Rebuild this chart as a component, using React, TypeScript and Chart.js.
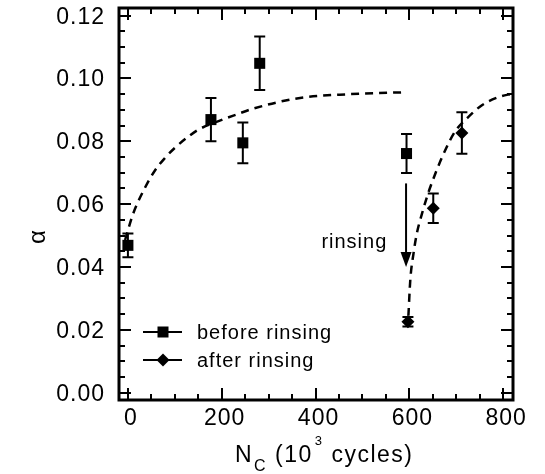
import React, { useEffect, useRef } from 'react';
import { Chart, registerables } from 'chart.js';

Chart.register(...registerables);

// ---- data ----
const beforeN = [0, 177, 245, 281, 594];
const beforeAlpha = [0.0469, 0.0869, 0.0795, 0.1048, 0.0761];
const beforeErr = [0.0038, 0.0069, 0.0065, 0.0085, 0.0062];

const afterN = [597, 651, 712];
const afterAlpha = [0.0226, 0.0587, 0.0826];
const afterErr = [0.0015, 0.0047, 0.0066];

// dashed guide curves
const fit1N = [-6, 11, 36, 58, 79, 100, 128, 149, 200, 235, 265, 367, 474, 591];
const fit1Alpha = [0.0486, 0.0569, 0.0651, 0.0708, 0.0747, 0.0779, 0.0814, 0.0836, 0.0868, 0.0887, 0.0903, 0.0938, 0.095, 0.0956];

const fit2N = [598, 602, 609, 616, 627, 640, 658, 676, 697, 725, 754, 789, 821];
const fit2Alpha = [0.0245, 0.0358, 0.0444, 0.0507, 0.057, 0.0634, 0.0707, 0.077, 0.083, 0.0876, 0.0914, 0.094, 0.0952];

// axes
const xTickValues = [0, 200, 400, 600, 800];
const xTickLabels = ['0', '200', '400', '600', '800'];
const yTickValues = [0, 0.02, 0.04, 0.06, 0.08, 0.1, 0.12];
const yTickLabels = ['0.00', '0.02', '0.04', '0.06', '0.08', '0.10', '0.12'];
const X_MIN = -19;
const X_MAX = 821;
const Y_MIN = -0.0023;
const Y_MAX = 0.1224;

// annotation
const legendLabels = ['before rinsing', 'after rinsing'];
const arrowN = 593;
const arrowFrom = 0.0666;
const arrowTo = 0.04;
const arrowText = 'rinsing';
const arrowTextN = 553;
const arrowTextAlpha = 0.0478;

const FONT = "'Liberation Sans', Arial, Helvetica, sans-serif";

const toXY = (xs: number[], ys: number[]) => xs.map((v, i) => ({ x: v, y: ys[i] }));

function drawDiamond(ctx: CanvasRenderingContext2D, x: number, y: number, r: number) {
  ctx.beginPath();
  ctx.moveTo(x, y - r);
  ctx.lineTo(x + r, y);
  ctx.lineTo(x, y + r);
  ctx.lineTo(x - r, y);
  ctx.closePath();
  ctx.fill();
}

const customPlugin = {
  id: 'custom',
  beforeDatasetDraw(chart: any, args: any) {
    if (args.index !== 1) return;
    const { ctx, scales } = chart;
    const x = scales.x;
    const y = scales.y;
    ctx.save();
    ctx.strokeStyle = '#000';
    ctx.lineWidth = 2;
    const cap = 5.5;
    const drawSet = (ns: number[], as: number[], es: number[]) => {
      ns.forEach((n, i) => {
        const px = x.getPixelForValue(n);
        const top = y.getPixelForValue(as[i] + es[i]);
        const bot = y.getPixelForValue(as[i] - es[i]);
        ctx.beginPath();
        ctx.moveTo(px, top);
        ctx.lineTo(px, bot);
        ctx.moveTo(px - cap, top);
        ctx.lineTo(px + cap, top);
        ctx.moveTo(px - cap, bot);
        ctx.lineTo(px + cap, bot);
        ctx.stroke();
      });
    };
    drawSet(beforeN, beforeAlpha, beforeErr);
    drawSet(afterN, afterAlpha, afterErr);
    ctx.restore();
  },
  afterDraw(chart: any) {
    const { ctx, chartArea: a, scales } = chart;
    const x = scales.x;
    const y = scales.y;
    ctx.save();
    ctx.strokeStyle = '#000';
    ctx.fillStyle = '#000';

    // ticks (inside, all four sides)
    ctx.lineWidth = 2;
    ctx.beginPath();
    for (let v = 0; v <= 800; v += 50) {
      const px = Math.round(x.getPixelForValue(v));
      const len = v % 200 === 0 ? 12 : 6;
      ctx.moveTo(px, a.bottom);
      ctx.lineTo(px, a.bottom - len);
      ctx.moveTo(px, a.top);
      ctx.lineTo(px, a.top + len);
    }
    for (let k = 0; k <= 24; k++) {
      const v = k * 0.005;
      const py = Math.round(y.getPixelForValue(v));
      const len = k % 4 === 0 ? 12 : 6;
      ctx.moveTo(a.left, py);
      ctx.lineTo(a.left + len, py);
      ctx.moveTo(a.right, py);
      ctx.lineTo(a.right - len, py);
    }
    ctx.stroke();

    // frame
    ctx.lineWidth = 3;
    ctx.strokeRect(a.left, a.top, a.right - a.left, a.bottom - a.top);

    // tick labels
    (ctx as any).letterSpacing = '1px';
    ctx.font = `23px ${FONT}`;
    ctx.textBaseline = 'alphabetic';
    ctx.textAlign = 'right';
    yTickValues.forEach((v, i) => {
      ctx.fillText(yTickLabels[i], 105, y.getPixelForValue(v) + 8);
    });
    ctx.textAlign = 'center';
    xTickValues.forEach((v, i) => {
      ctx.fillText(xTickLabels[i], x.getPixelForValue(v) + 3, 425);
    });

    // x title: N_C (10^3 cycles)
    (ctx as any).letterSpacing = '1.5px';
    ctx.textAlign = 'left';
    let cx = 235;
    ctx.font = `23px ${FONT}`;
    ctx.fillText('N', cx, 462);
    cx += ctx.measureText('N').width;
    ctx.font = `16px ${FONT}`;
    ctx.fillText('C', cx + 1, 471);
    cx += ctx.measureText('C').width + 1;
    ctx.font = `23px ${FONT}`;
    ctx.fillText(' (10', cx, 462);
    cx += ctx.measureText(' (10').width;
    ctx.font = `13px ${FONT}`;
    ctx.fillText('3', cx + 2, 445);
    cx += ctx.measureText('3').width + 2;
    ctx.font = `23px ${FONT}`;
    ctx.fillText(' cycles)', cx, 462);
    (ctx as any).letterSpacing = '1px';

    // y title
    ctx.save();
    ctx.translate(38, 237);
    ctx.rotate(-Math.PI / 2);
    ctx.font = `24px ${FONT}`;
    ctx.textAlign = 'center';
    ctx.textBaseline = 'middle';
    (ctx as any).letterSpacing = '0px';
    ctx.fillText('\u03b1', 0, 0);
    ctx.restore();

    // legend
    ctx.font = `20px ${FONT}`;
    ctx.textAlign = 'left';
    ctx.textBaseline = 'middle';
    const rows = [332, 360];
    rows.forEach((ry, i) => {
      ctx.lineWidth = 2;
      ctx.beginPath();
      ctx.moveTo(143, ry);
      ctx.lineTo(182, ry);
      ctx.stroke();
      if (i === 0) {
        ctx.fillRect(163 - 5.5, ry - 5.5, 11, 11);
      } else {
        drawDiamond(ctx, 163, ry, 6.5);
      }
      ctx.fillText(legendLabels[i], 197, ry + 1);
    });

    // arrow + "rinsing"
    const ax = x.getPixelForValue(arrowN);
    const ay0 = y.getPixelForValue(arrowFrom);
    const ay1 = y.getPixelForValue(arrowTo);
    ctx.lineWidth = 2;
    ctx.beginPath();
    ctx.moveTo(ax, ay0);
    ctx.lineTo(ax, ay1 - 10);
    ctx.stroke();
    ctx.beginPath();
    ctx.moveTo(ax, ay1);
    ctx.lineTo(ax - 5.5, ay1 - 15);
    ctx.lineTo(ax + 5.5, ay1 - 15);
    ctx.closePath();
    ctx.fill();
    ctx.textAlign = 'right';
    ctx.fillText(arrowText, x.getPixelForValue(arrowTextN), y.getPixelForValue(arrowTextAlpha));

    ctx.restore();
  },
};

export default function App() {
  const ref = useRef<HTMLCanvasElement>(null);
  useEffect(() => {
    if (!ref.current) return;
    const chart = new Chart(ref.current, {
      type: 'scatter',
      data: {
        datasets: [
          {
            label: 'after rinsing',
            data: toXY(afterN, afterAlpha),
            pointStyle: 'rectRot',
            pointRadius: 6.5,
            backgroundColor: '#000',
            borderColor: '#000',
            borderWidth: 0,
            showLine: false,
          },
          {
            label: 'before rinsing',
            data: toXY(beforeN, beforeAlpha),
            pointStyle: 'rect',
            pointRadius: 7.8,
            backgroundColor: '#000',
            borderColor: '#000',
            borderWidth: 0,
            showLine: false,
          },
          {
            label: 'fit after',
            data: toXY(fit2N, fit2Alpha),
            showLine: true,
            pointRadius: 0,
            borderColor: '#000',
            borderWidth: 2.5,
            borderDash: [8, 6],
            cubicInterpolationMode: 'monotone',
            fill: false,
          },
          {
            label: 'fit before',
            data: toXY(fit1N, fit1Alpha),
            showLine: true,
            pointRadius: 0,
            borderColor: '#000',
            borderWidth: 2.5,
            borderDash: [8, 6],
            cubicInterpolationMode: 'monotone',
            fill: false,
          },
        ],
      },
      options: {
        responsive: false,
        animation: false,
        devicePixelRatio: 1,
        layout: { padding: { left: 119, right: 32, top: 8, bottom: 74 } },
        plugins: { legend: { display: false }, tooltip: { enabled: false } },
        scales: {
          x: { type: 'linear', min: X_MIN, max: X_MAX, display: false },
          y: { type: 'linear', min: Y_MIN, max: Y_MAX, display: false },
        },
      },
      plugins: [customPlugin],
    } as any);
    return () => chart.destroy();
  }, []);
  return (
    <div style={{ position: 'absolute', left: 0, top: 0, width: 545, height: 474, background: '#fff' }}>
      <canvas ref={ref} width={545} height={474} />
    </div>
  );
}
